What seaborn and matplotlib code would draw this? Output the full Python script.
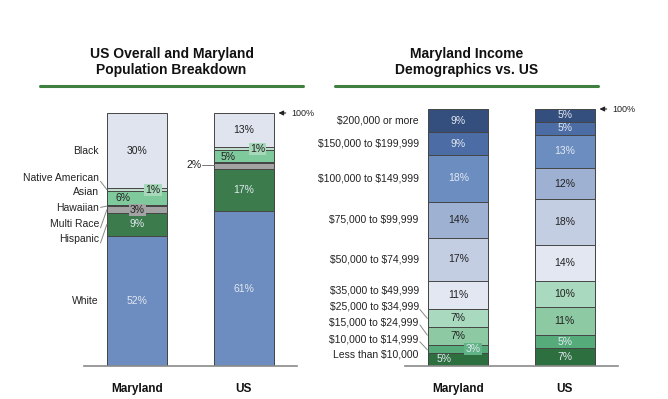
import pandas as pd
import matplotlib.pyplot as plt
import seaborn as sns
from matplotlib.lines import Line2D

# Datos
places = ["Maryland", "US"]

pop_cats = ["White", "Hispanic", "Multi Race", "Hawaiian", "Asian", "Native American", "Black"]
pop_md = [51.4, 9.1, 2.6, 0.4, 5.8, 0.9, 29.8]
pop_us = [61.4, 16.6, 2.2, 0.3, 5.0, 1.2, 13.3]
pop_md_lbl = ["52%", "9%", "3%", "", "6%", "1%", "30%"]
pop_us_lbl = ["61%", "17%", "2%", "", "5%", "1%", "13%"]

inc_cats = ["Less than $10,000", "$10,000 to $14,999", "$15,000 to $24,999", "$25,000 to $34,999",
            "$35,000 to $49,999", "$50,000 to $74,999", "$75,000 to $99,999",
            "$100,000 to $149,999", "$150,000 to $199,999", "$200,000 or more"]
inc_md = [5, 3, 7, 7, 11, 17, 14, 18, 9, 9]
inc_us = [7, 5, 11, 10, 14, 18, 12, 13, 5, 5]

# Estilo
pop_colors = ["#6d8cbf", "#3c7c4c", "#a3a3a3", "#2b3b30", "#7fca9c", "#c0dccb", "#dfe4ee"]
pop_light_txt = [True, True, False, False, False, False, False]
inc_colors = ["#2e6f3f", "#55ab7a", "#8dc9a2", "#a9d9bf", "#e2e7f1",
              "#c3cee3", "#9eb1d2", "#6c8dc0", "#4b6ca4", "#344f7d"]
inc_light_txt = [True, True, False, False, False, False, False, True, True, True]
LIGHT = "#e2e9f2"
DARK = "#222222"
EDGE = "#454545"

sns.set_theme(style="white")
plt.rcParams["font.family"] = ["Liberation Sans", "DejaVu Sans"]
plt.rcParams["text.parse_math"] = False

fig = plt.figure(figsize=(6.68, 3.99), dpi=100)
ax1 = fig.add_axes([84 / 668, 1 - 366 / 399, 213 / 668, 253 / 399])
ax2 = fig.add_axes([405 / 668, 1 - 366 / 399, 213 / 668, 257 / 399])


def stacked(ax, cats, md, us, colors):
    df = pd.DataFrame({"place": ["Maryland"] * len(cats) + ["US"] * len(cats),
                       "cat": cats * 2, "value": md + us})
    df["cum"] = df.groupby("place")["value"].cumsum()
    # se dibuja de arriba hacia abajo, cada barra tapa la anterior
    for cat, col in reversed(list(zip(cats, colors))):
        sub = df[df["cat"] == cat]
        sns.barplot(data=sub, x="place", y="cum", order=places, color=col, saturation=1,
                    width=0.56, edgecolor=EDGE, linewidth=0.7, ax=ax)
    ax.set_xlim(-0.5, 1.5)
    ax.set_ylim(0, 100)
    ax.set_xlabel("")
    ax.set_ylabel("")
    ax.set_yticks([])
    sns.despine(ax=ax, left=True)
    ax.spines["bottom"].set_color("#8a8a8a")
    ax.spines["bottom"].set_linewidth(1.2)
    ax.tick_params(axis="x", length=0, pad=12)
    for t in ax.get_xticklabels():
        t.set_fontweight("bold")
        t.set_fontsize(8.5)
        t.set_color("#111111")
    return df


df_pop = stacked(ax1, pop_cats, pop_md, pop_us, pop_colors)
df_inc = stacked(ax2, inc_cats, inc_md, inc_us, inc_colors)


def seg_center(vals, i):
    return sum(vals[:i]) + vals[i] / 2


# etiquetas de porcentaje - poblacion
md_pos = {0: (0, None), 1: (0, None), 2: (0, 61.7), 4: (-0.13, 66.4), 5: (0.15, 69.6), 6: (0, None)}
us_pos = {0: (1, 30.5), 1: (1, None), 4: (0.85, 82.6), 5: (1.13, 85.8), 6: (1, None)}
boxes = {2: "#a3a3a3", 5: "#a6d8b9"}
for vals, lbls, pos in [(pop_md, pop_md_lbl, md_pos), (pop_us, pop_us_lbl, us_pos)]:
    for i, (x, y) in pos.items():
        if y is None:
            y = seg_center(vals, i)
        bbox = None
        if i in boxes:
            bbox = dict(boxstyle="square,pad=0.12", fc=boxes[i], ec="none")
        ax1.text(x, y, lbls[i], ha="center", va="center", fontsize=7.5, bbox=bbox,
                 color=LIGHT if pop_light_txt[i] else DARK)
ax1.text(0.60, 79.4, pop_us_lbl[2], ha="right", va="center", fontsize=7.5, color=DARK)
ax1.plot([0.61, 0.72], [79.6, 79.6], color="#777777", lw=0.7)

# nombres de categorias - poblacion
cat_y = {"Black": None, "Native American": 74.5, "Asian": 68.8, "Hawaiian": 62.5,
         "Multi Race": 56.3, "Hispanic": 50.2, "White": None}
for i, cat in enumerate(pop_cats):
    y = cat_y[cat] if cat_y[cat] is not None else seg_center(pop_md, i)
    ax1.text(-0.36, y, cat, ha="right", va="center", fontsize=7.5, color=DARK, clip_on=False)
leaders = [((-0.345, 73.0), (-0.285, 69.7)), ((-0.345, 62.7), (-0.285, 63.2)),
           ((-0.345, 54.6), (-0.285, 61.8)), ((-0.345, 48.6), (-0.285, 56.0))]
for (x0, y0), (x1, y1) in leaders:
    ax1.plot([x0, x1], [y0, y1], color="#888888", lw=0.7, clip_on=False)

# etiquetas de porcentaje - ingresos
for k, vals in enumerate([inc_md, inc_us]):
    for i, v in enumerate(vals):
        x, y = k, seg_center(vals, i)
        bbox = None
        if k == 0 and i == 1:
            x, y = 0.14, 6.6
            bbox = dict(boxstyle="square,pad=0.12", fc="#5fb384", ec="none")
        if k == 0 and i == 0:
            x, y = -0.13, 2.6
        ax2.text(x, y, f"{v}%", ha="center", va="center", fontsize=7.5, bbox=bbox,
                 color=LIGHT if inc_light_txt[i] else DARK)

inc_y = [4.3, 10.5, 17.1, 23.0, 29.2]
for i, cat in enumerate(inc_cats):
    y = inc_y[i] if i < len(inc_y) else seg_center(inc_md, i)
    ax2.text(-0.37, y, cat, ha="right", va="center", fontsize=7.5, color=DARK, clip_on=False)
for y0, y1 in [(22.0, 18.5), (16.0, 12.0), (9.4, 6.3)]:
    ax2.plot([-0.36, -0.29], [y0, y1], color="#888888", lw=0.7, clip_on=False)

# flechas 100%
for ax in [ax1, ax2]:
    ax.annotate("", xy=(1.30, 100), xytext=(1.42, 100),
                arrowprops=dict(arrowstyle="-|>", color="#222222", lw=0.8, mutation_scale=7),
                annotation_clip=False)
    ax.text(1.45, 100, "100%", ha="left", va="center", fontsize=6.5, color=DARK, clip_on=False)

# titulos
fig.text(171.5 / 668, 1 - 62 / 399, "US Overall and Maryland\nPopulation Breakdown",
         ha="center", va="center", fontsize=10, fontweight="bold", linespacing=1.2, color="#111111")
fig.text(466.5 / 668, 1 - 62 / 399, "Maryland Income\nDemographics vs. US",
         ha="center", va="center", fontsize=10, fontweight="bold", linespacing=1.2, color="#111111")
for x0, x1 in [(40, 303), (335, 598)]:
    fig.add_artist(Line2D([x0 / 668, x1 / 668], [1 - 86 / 399] * 2, color="#3f7f3f", lw=2.2))

fig.savefig("out.png", dpi=100, facecolor="white")
